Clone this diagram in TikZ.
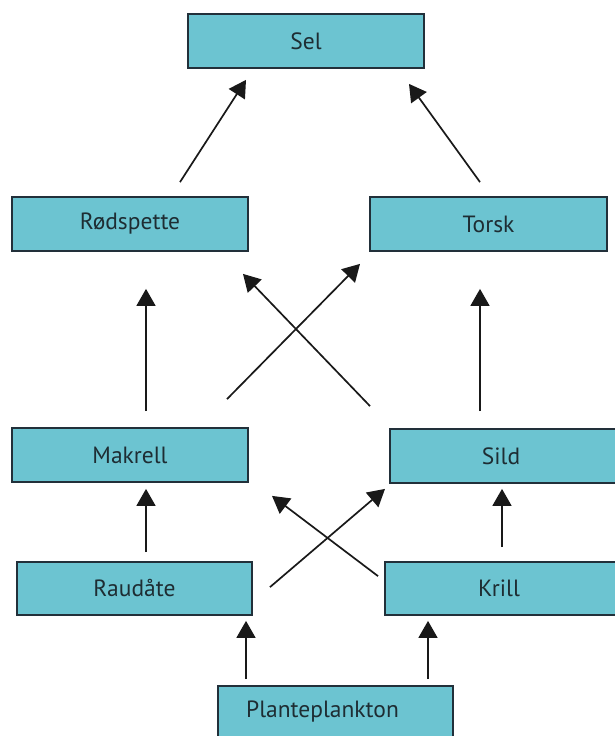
\documentclass[tikz,border=0pt]{standalone}
\usepackage{fontspec}
\setmainfont{PT Sans}
\usetikzlibrary{arrows.meta,calc}
\definecolor{boxfill}{HTML}{6CC4D1}
\definecolor{boxline}{HTML}{22303A}
\definecolor{inktext}{HTML}{1E2D33}
\tikzset{
  label font/.style={font=\fontsize{23.5}{26}\selectfont, text=inktext},
  species/.style={draw=boxline, line width=1.8pt, fill=boxfill, label font,
    inner sep=0pt},
  feeds/.style={line width=1.7pt, draw=black!90,
    -{Triangle[length=17pt,width=19pt]}}
}
\begin{document}
\begin{tikzpicture}[x=1pt,y=-1pt]
\useasboundingbox (0,0) rectangle (614,736);
% food-web boxes (centre, width, height)
\node[species, minimum width=236pt, minimum height=54pt] (sel)   at (306,41)    {Sel};
\node[species, minimum width=236pt, minimum height=54pt] (rod)   at (130,224)   {Rødspette};
\node[species, minimum width=237pt, minimum height=54pt] (torsk) at (488.5,224) {Torsk};
\node[species, minimum width=236pt, minimum height=54pt] (mak)   at (130,455)   {Makrell};
\node[species, minimum width=234pt, minimum height=54pt] (sild)  at (507,456)   {};
\node[label font] (sildtxt) at (501,456) {Sild};
\node[species, minimum width=235pt, minimum height=53pt] (raud)  at (134.5,588.5) {Raudåte};
\node[species, minimum width=240pt, minimum height=53pt] (krill) at (505,588.5) {};
\node[label font] (krilltxt) at (499,588.5) {Krill};
\node[species, minimum width=235pt, minimum height=56pt] (plank) at (335.5,714) {};
\node[label font, anchor=west, inner sep=0pt] (planktxt) at (246,712) {Planteplankton};
% who eats whom
\draw[feeds] ($(rod.north)+(50,-14)$)    -- ($(sel.south)+(-60,11)$);
\draw[feeds] ($(torsk.north)+(-8.5,-14)$) -- ($(sel.south)+(103,15)$);
\draw[feeds] ($(mak.north)+(16,-16)$)    -- ($(rod.south)+(16,37)$);
\draw[feeds] ($(mak.north)+(97,-28)$)    -- ($(torsk.south)+(-128.5,12)$);
\draw[feeds] ($(sild.north)+(-137,-22)$) -- ($(rod.south)+(113,22)$);
\draw[feeds] ($(sild.north)+(-27,-17)$)  -- ($(torsk.south)+(-8.5,37)$);
\draw[feeds] ($(raud.north)+(11.5,-9)$)  -- ($(mak.south)+(16,6)$);
\draw[feeds] ($(raud.north)+(135.5,26)$) -- ($(sild.south)+(-122,5)$);
\draw[feeds] ($(krill.north)+(-127,15)$) -- ($(mak.south)+(142,13)$);
\draw[feeds] ($(krill.north)+(-3,-14)$)  -- ($(sild.south)+(-5,5)$);
\draw[feeds] ($(plank.north)+(-89.5,-6)$) -- ($(raud.south)+(111.5,5)$);
\draw[feeds] ($(plank.north)+(92.5,-6)$)  -- ($(krill.south)+(-77,5)$);
\end{tikzpicture}
\end{document}
